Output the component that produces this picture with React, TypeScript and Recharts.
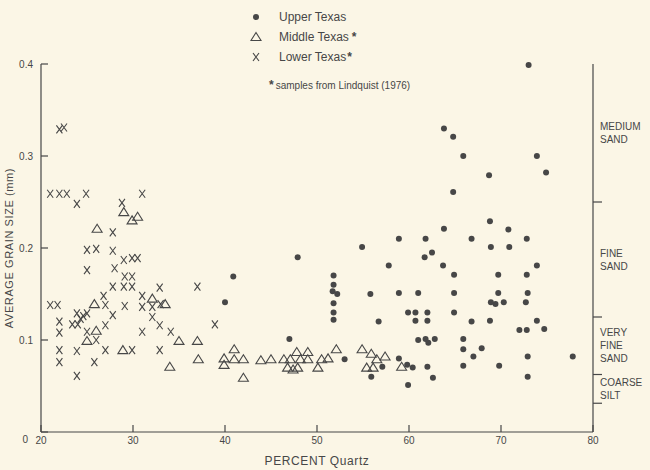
import { Legend, Scatter, ScatterChart, XAxis, YAxis } from "recharts";

const ink = "#474747";
const paper = "#fbf6e6";
const font = '"Liberation Sans", Arial, sans-serif';

const xTicks = [20, 30, 40, 50, 60, 70, 80];
const yTicks = [0, 0.1, 0.2, 0.3, 0.4];
// class limits (mm) marked on the right axis, top to bottom
const classLimits = [0.25, 0.125, 0.0625, 0.03125];
const classNames = [["MEDIUM", "SAND"], ["FINE", "SAND"], ["VERY", "FINE", "SAND"], ["COARSE", "SILT"]];
const classMids = classLimits.map((lo, i) => (lo + (i === 0 ? 0.4 : classLimits[i - 1])) / 2);

const seriesNames = ["Upper Texas", "Middle Texas", "Lower Texas"];
const fromLindquist = [false, true, true];

// [percent quartz, average grain size mm]
const upperTexas: [number, number][] = [
  [73.0, 0.399], [63.8, 0.33], [64.8, 0.321], [65.9, 0.3], [73.9, 0.3], [74.9, 0.282],
  [68.7, 0.279], [64.8, 0.261], [68.8, 0.229], [63.8, 0.221], [70.8, 0.22], [66.8, 0.21],
  [72.8, 0.21], [58.9, 0.21], [61.8, 0.21], [68.9, 0.201], [70.9, 0.201], [54.9, 0.201],
  [47.9, 0.19], [62.5, 0.195], [61.7, 0.19], [57.8, 0.181], [63.7, 0.181], [73.9, 0.181],
  [64.9, 0.171], [69.7, 0.171], [72.8, 0.171], [40.9, 0.169], [51.8, 0.17], [51.8, 0.16],
  [51.7, 0.153], [52.2, 0.15], [51.8, 0.14], [51.8, 0.13], [51.8, 0.122], [40.0, 0.141],
  [55.8, 0.15], [58.9, 0.151], [61.0, 0.151], [64.9, 0.151], [69.7, 0.151], [72.9, 0.151],
  [68.9, 0.141], [69.4, 0.139], [70.3, 0.141], [72.7, 0.141], [59.9, 0.13], [60.7, 0.13],
  [62.0, 0.13], [64.9, 0.13], [56.7, 0.12], [60.7, 0.121], [62.0, 0.121], [66.8, 0.12],
  [68.8, 0.121], [73.9, 0.121], [72.0, 0.111], [72.8, 0.111], [74.7, 0.112], [47.0, 0.101],
  [61.0, 0.1], [61.8, 0.101], [62.1, 0.097], [62.8, 0.101], [65.9, 0.101], [65.9, 0.09],
  [67.9, 0.091], [53.0, 0.079], [58.9, 0.08], [67.0, 0.082], [72.9, 0.082], [77.8, 0.082],
  [57.1, 0.071], [59.8, 0.073], [60.4, 0.07], [62.0, 0.071], [65.9, 0.072], [69.8, 0.072],
  [55.9, 0.06], [62.6, 0.059], [72.9, 0.06], [59.9, 0.051],
];

const middleTexas: [number, number][] = [
  [29.0, 0.239], [29.9, 0.23], [30.5, 0.234], [26.1, 0.221], [25.8, 0.139], [32.1, 0.145],
  [33.5, 0.139], [26.0, 0.11], [25.0, 0.099], [28.9, 0.089], [35.0, 0.099], [34.0, 0.071],
  [37.0, 0.099], [37.1, 0.079], [41.0, 0.09], [39.9, 0.08], [41.0, 0.079], [42.0, 0.079],
  [39.9, 0.073], [42.0, 0.059], [43.9, 0.078], [45.0, 0.079], [46.4, 0.079], [47.1, 0.079],
  [47.8, 0.087], [46.8, 0.07], [47.4, 0.068], [47.9, 0.07], [48.2, 0.079], [49.0, 0.087],
  [49.0, 0.079], [50.5, 0.079], [51.2, 0.08], [50.1, 0.07], [52.1, 0.09], [54.9, 0.09],
  [55.9, 0.085], [56.5, 0.079], [55.4, 0.07], [56.1, 0.07], [57.4, 0.082], [59.2, 0.071],
];

const lowerTexas: [number, number][] = [
  [22.0, 0.329], [22.5, 0.331], [21.0, 0.259], [22.0, 0.259], [22.8, 0.259], [24.9, 0.259],
  [31.0, 0.259], [23.9, 0.248], [28.8, 0.249], [27.8, 0.217], [25.0, 0.198], [26.0, 0.199],
  [27.8, 0.197], [29.0, 0.187], [29.9, 0.189], [30.5, 0.189], [25.0, 0.176], [28.0, 0.178],
  [29.1, 0.169], [29.9, 0.169], [27.8, 0.158], [29.0, 0.158], [29.9, 0.158], [32.9, 0.157],
  [26.8, 0.148], [31.0, 0.148], [21.0, 0.138], [21.8, 0.138], [27.0, 0.138], [29.1, 0.137],
  [31.0, 0.136], [32.1, 0.136], [33.0, 0.139], [22.0, 0.12], [23.9, 0.129], [24.6, 0.126],
  [25.0, 0.129], [23.4, 0.117], [24.0, 0.117], [24.3, 0.123], [27.8, 0.127], [32.1, 0.125],
  [27.0, 0.116], [32.9, 0.116], [22.0, 0.108], [25.0, 0.109], [31.0, 0.109], [34.1, 0.109],
  [26.0, 0.1], [22.0, 0.089], [23.9, 0.088], [27.0, 0.089], [29.9, 0.089], [32.9, 0.089],
  [22.0, 0.076], [25.8, 0.076], [23.9, 0.061], [37.0, 0.158], [38.9, 0.117],
];

const toPoints = (rows: [number, number][]) => rows.map(([x, y]) => ({ x, y }));

const Dot = ({ cx, cy }: any) => <circle cx={cx} cy={cy} r={3} fill={ink} />;
const Triangle = ({ cx, cy }: any) => (
  <path d={`M${cx},${cy - 4.5}L${cx + 5},${cy + 3.5}L${cx - 5},${cy + 3.5}Z`} fill="none" stroke={ink} strokeWidth={1.1} />
);
const Cross = ({ cx, cy }: any) => (
  <path d={`M${cx - 3},${cy - 4}L${cx + 3},${cy + 4}M${cx + 3},${cy - 4}L${cx - 3},${cy + 4}`} stroke={ink} strokeWidth={1.1} />
);
const Nothing = () => <g />;
const markers = [Dot, Triangle, Cross];

const text = { fill: ink, fontFamily: font };

const LeftTick = ({ x, y, payload }: any) => (
  <g>
    <line x1={x} x2={x + 7} y1={y} y2={y} stroke={ink} strokeWidth={1.2} />
    <text x={x - 8} y={y} dx={payload.value === 0 ? -5 : 0} dy={payload.value === 0 ? 11 : 3.5} textAnchor="end" fontSize={10} {...text}>
      {payload.value}
    </text>
  </g>
);

const BottomTick = ({ x, y, payload }: any) => (
  <g>
    <line x1={x} x2={x} y1={y} y2={y - 7} stroke={ink} strokeWidth={1.2} />
    <text x={x} y={y + 5} dy="0.71em" textAnchor="middle" fontSize={10} {...text}>
      {payload.value}
    </text>
  </g>
);

const RightTick = ({ x, y, payload }: any) => {
  const v = payload.value;
  if (classLimits.some((l) => Math.abs(l - v) < 1e-9)) {
    return <line x1={x} x2={x + 9} y1={y} y2={y} stroke={ink} strokeWidth={1.2} />;
  }
  const lines = classNames[classMids.findIndex((m) => Math.abs(m - v) < 1e-9)] || [];
  return (
    <text x={x + 7} y={y} fontSize={10} {...text}>
      {lines.map((l, j) => (
        <tspan key={l + j} x={x + 7} dy={j === 0 ? 3.5 - ((lines.length - 1) * 13) / 2 : 13}>
          {l}
        </tspan>
      ))}
    </text>
  );
};

function Key() {
  return (
    <svg width={220} height={95} style={{ display: "block" }}>
      {seriesNames.map((name, i) => {
        const Marker = markers[i];
        const cy = 17 + i * 20;
        return (
          <g key={name}>
            <Marker cx={11} cy={cy} />
            <text x={34} y={cy + 4} fontSize={12} {...text}>
              {name}
              {fromLindquist[i] && (
                <tspan dx={i === 1 ? 3 : 1} fontWeight="bold" fontSize={12}>
                  *
                </tspan>
              )}
            </text>
          </g>
        );
      })}
      <text x={24} y={89} fontSize={10} {...text}>
        <tspan fontWeight="bold" fontSize={12}>*</tspan>
        <tspan dx={2}>samples from Lindquist (1976)</tspan>
      </text>
    </svg>
  );
}

export default function App() {
  return (
    <div style={{ position: "absolute", left: 0, top: 0, width: 650, height: 470, background: paper }}>
      <ScatterChart width={650} height={470} margin={{ top: 64, right: 0, bottom: 0, left: 0 }}>
        <XAxis
          type="number"
          dataKey="x"
          domain={[20, 80]}
          ticks={xTicks}
          interval={0}
          height={38}
          tickSize={0}
          tickMargin={0}
          tickLine={false}
          tick={BottomTick}
          axisLine={{ stroke: ink, strokeWidth: 1.2 }}
          label={{ value: "PERCENT Quartz", position: "insideBottom", offset: 5, style: { ...text, fontSize: 12, letterSpacing: 0.6 } }}
        />
        <YAxis
          type="number"
          dataKey="y"
          yAxisId="l"
          domain={[0, 0.4]}
          ticks={yTicks}
          interval={0}
          width={41}
          tickSize={0}
          tickMargin={0}
          tickLine={false}
          tick={LeftTick}
          axisLine={{ stroke: ink, strokeWidth: 1.2 }}
          label={{
            value: "AVERAGE GRAIN SIZE (mm)",
            angle: -90,
            position: "insideLeft",
            offset: 9,
            style: { ...text, fontSize: 11, textAnchor: "middle", letterSpacing: 0.6 },
          }}
        />
        <YAxis
          type="number"
          dataKey="y"
          yAxisId="r"
          orientation="right"
          domain={[0, 0.4]}
          ticks={[...classLimits, ...classMids]}
          interval={0}
          width={57}
          tickSize={0}
          tickMargin={0}
          tickLine={false}
          tick={RightTick}
          axisLine={{ stroke: ink, strokeWidth: 1.2 }}
        />
        <Legend
          layout="horizontal"
          align="center"
          verticalAlign="middle"
          content={() => <Key />}
          wrapperStyle={{ position: "absolute", top: 0, left: 245, width: 220, height: 95 }}
        />
        <Scatter name={seriesNames[0]} yAxisId="l" data={toPoints(upperTexas)} shape={Dot} isAnimationActive={false} />
        <Scatter name={seriesNames[1]} yAxisId="l" data={toPoints(middleTexas)} shape={Triangle} isAnimationActive={false} />
        <Scatter name={seriesNames[2]} yAxisId="l" data={toPoints(lowerTexas)} shape={Cross} isAnimationActive={false} />
        <Scatter yAxisId="r" data={toPoints(upperTexas)} shape={Nothing} legendType="none" isAnimationActive={false} />
      </ScatterChart>
    </div>
  );
}
